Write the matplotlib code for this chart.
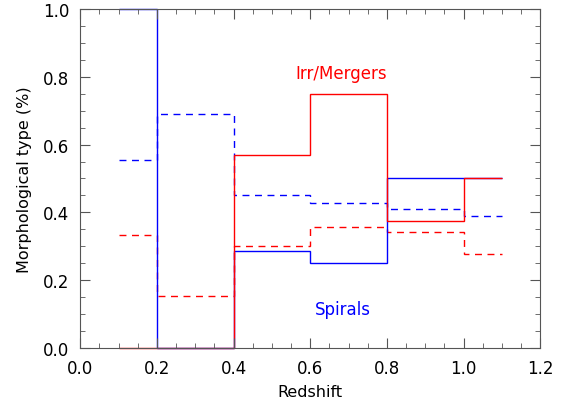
import matplotlib.pyplot as plt
from matplotlib.ticker import MultipleLocator

# redshift bin edges
edges = [0.1, 0.2, 0.4, 0.6, 0.8, 1.0, 1.1]

# fraction per bin
spirals = [1.0, 0.0, 0.285, 0.25, 0.50, 0.50]
irr_mergers = [0.0, 0.0, 0.57, 0.75, 0.375, 0.50]
spirals_dash = [0.555, 0.69, 0.45, 0.428, 0.41, 0.39]
irr_dash = [0.333, 0.153, 0.302, 0.356, 0.342, 0.277]

fig = plt.figure(figsize=(5.61, 4.02), dpi=100)
ax = fig.add_axes([0.143, 0.132, 0.820, 0.843])

ax.stairs(spirals_dash, edges, baseline=None, color='blue', lw=1.0, ls=(0, (5, 4)))
ax.stairs(irr_dash, edges, baseline=None, color='red', lw=1.0, ls=(0, (5, 4)))
ax.stairs(spirals, edges, baseline=None, color='blue', lw=1.0, clip_on=False)
ax.stairs(irr_mergers, edges, baseline=None, color='red', lw=1.0, clip_on=False)

ax.text(0.68, 0.81, 'Irr/Mergers', color='red', fontsize=12, ha='center', va='center')
ax.text(0.685, 0.115, 'Spirals', color='blue', fontsize=12, ha='center', va='center')

ax.set_xlim(0.0, 1.2)
ax.set_ylim(0.0, 1.0)
ax.xaxis.set_major_locator(MultipleLocator(0.2))
ax.xaxis.set_minor_locator(MultipleLocator(0.05))
ax.yaxis.set_major_locator(MultipleLocator(0.2))
ax.yaxis.set_minor_locator(MultipleLocator(0.05))
ax.xaxis.set_major_formatter(plt.FormatStrFormatter('%.1f'))
ax.yaxis.set_major_formatter(plt.FormatStrFormatter('%.1f'))
ax.tick_params(which='both', direction='in', top=True, right=True, labelsize=12, color='#555555')
ax.tick_params(which='major', length=7, pad=8)
ax.tick_params(which='minor', length=3.5)
for s in ax.spines.values():
    s.set_color('#555555')

ax.set_xlabel('Redshift', fontsize=11.5, labelpad=5)
ax.set_ylabel('Morphological type (%)', fontsize=11.5, labelpad=8)

fig.savefig('out.png', dpi=100)
